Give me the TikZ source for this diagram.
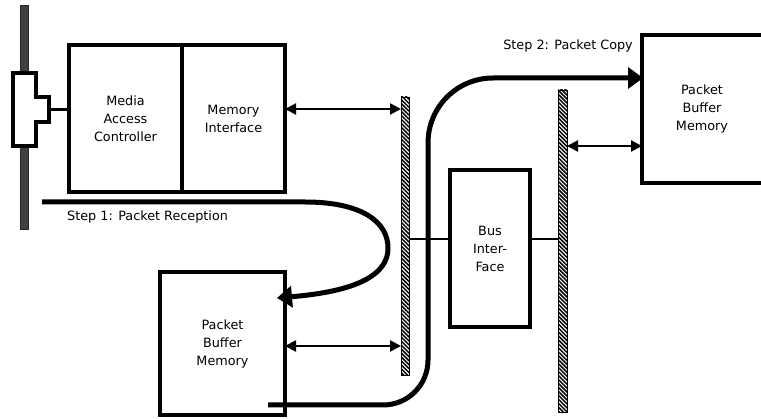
\documentclass[tikz,border=0pt]{standalone}
\usepackage{fontspec}
\setmainfont{DejaVu Sans}
\usetikzlibrary{arrows.meta,patterns.meta,calc}
\begin{document}
\begin{tikzpicture}[x=1pt,y=-1pt,
  box/.style={draw,line width=4pt,fill=white,inner sep=0pt,outer sep=0pt,align=center,
    font=\fontsize{12.8}{18}\selectfont},
  lbl/.style={inner sep=0pt,font=\fontsize{12.8}{14}\selectfont},
  hbar/.style={draw,line width=0.8pt,inner sep=0pt,outer sep=0pt,
    pattern={Lines[angle=-45,distance=2.8pt,line width=1.5pt]}},
  netbar/.style={fill=black!75,draw=black!85,line width=0.5pt,inner sep=0pt,outer sep=0pt},
  dbl/.style={line width=2.3pt,{Triangle[length=11pt,width=11pt]}-{Triangle[length=11pt,width=11pt]}},
  stub/.style={line width=2.3pt},
  flow/.style={line width=5pt,-{Triangle[length=15pt,width=21pt]}}]
\useasboundingbox (0,0) rectangle (761,419);

% network cable (left)
\node[netbar,minimum width=8pt,minimum height=224pt] (net) at (24,117) {};
% T connector
\draw[line width=4pt,fill=white,line join=miter] (13,73) -- (36,73) -- (36,97) -- (49,97) -- (49,122) -- (36,122) -- (36,146) -- (13,146) -- cycle;
\coordinate (tee) at (49,109.5);

% boxes
\node[box,minimum width=113pt,minimum height=147pt] (mac) at (125.5,118.5) {Media\\Access\\Controller};
\node[box,minimum width=103pt,minimum height=147pt] (mi) at (233.5,118.5) {Memory\\Interface};
\node[box,line width=3.5pt,minimum width=125pt,minimum height=143pt] (pbm1) at (222.5,343.5) {Packet\\Buffer\\Memory};
\node[box,minimum width=80pt,minimum height=157pt] (bi) at (490,248.5) {Bus\\Inter-\\Face};
\node[box,minimum width=124pt,minimum height=148pt,text width=118pt] (pbm2) at (704,109) {\hspace*{-4pt}Packet\\\hspace*{-4pt}Buffer\\\hspace*{-4pt}Memory};

% buses
\node[hbar,minimum width=8pt,minimum height=278pt] (bus1) at (405,236) {};
\node[hbar,minimum width=9pt,minimum height=322pt] (bus2) at (562.5,251) {};

% connections
\draw[stub] (tee) -- (mac.west |- tee);
\draw[dbl] (mi.east |- 0,109) -- (bus1.west |- 0,109);
\draw[dbl] (pbm1.east |- 0,346) -- (bus1.west |- 0,346);
\draw[stub] (bus1.east |- 0,239) -- (bi.west |- 0,239);
\draw[stub] (bi.east |- 0,239) -- (bus2.west |- 0,239);
\draw[dbl] (bus2.east |- 0,146) -- (pbm2.west |- 0,146);

% Step 1 flow
\coordinate (s1start) at (42,202);
\coordinate (s1end) at (277,298);
\draw[flow] (s1start) -- (305,202) .. controls (362,202) and (388,222) .. (388,248)
  .. controls (388,283) and (335,293) .. (s1end);
\node[lbl,anchor=west] (step1) at (67,217) {Step 1: Packet Reception};

% Step 2 flow
\coordinate (s2start) at (268,405);
\coordinate (s2end) at (643,78);
\draw[flow] (s2start) -- (383,405) .. controls (408,405) and (428,385) .. (428,360)
  -- (428,143) .. controls (428,107) and (457,78) .. (493,78) -- (s2end);
\node[lbl,anchor=east] (step2) at (633,46) {Step 2: Packet Copy};
\end{tikzpicture}
\end{document}
